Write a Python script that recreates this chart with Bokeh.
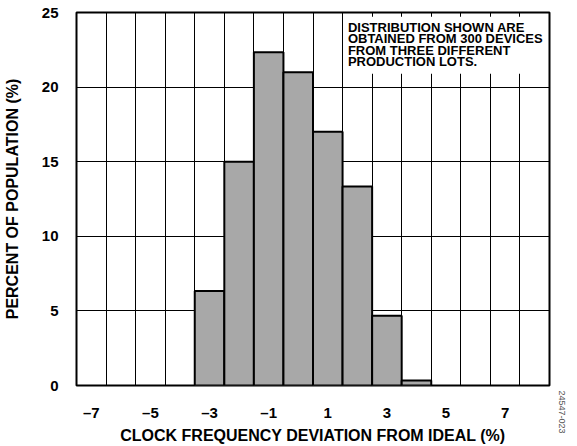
from bokeh.plotting import figure
from bokeh.models import FixedTicker, Label, Range1d, Title
from bokeh.embed import file_html
from bokeh.resources import INLINE

# data
bin_centers = [-3, -2, -1, 0, 1, 2, 3, 4]
percent = [6.33, 15.0, 22.33, 21.0, 17.0, 13.33, 4.67, 0.33]
x_tick_labels = [-7, -5, -3, -1, 1, 3, 5, 7]
y_ticks = [0, 5, 10, 15, 20, 25]
note_lines = ["DISTRIBUTION SHOWN ARE", "OBTAINED FROM 300 DEVICES",
              "FROM THREE DIFFERENT", "PRODUCTION LOTS."]

FONT = "Liberation Sans"

p = figure(width=577, height=446, output_backend="svg", toolbar_location=None,
           x_range=Range1d(-7.5, 8.5), y_range=Range1d(0, 25),
           min_border_left=69, min_border_right=28, min_border_top=12, min_border_bottom=51)

p.outline_line_color = "black"
p.outline_line_width = 2
p.outline_line_alpha = 1

# grid
p.xgrid.ticker = FixedTicker(ticks=[x + 0.5 for x in range(-7, 8)])
p.ygrid.ticker = FixedTicker(ticks=[5, 10, 15, 20])
for g in (p.xgrid, p.ygrid):
    g.grid_line_color = "black"
    g.grid_line_width = 1
    g.grid_line_alpha = 1

# bars
p.vbar(x=bin_centers, top=percent, width=1.0, bottom=0,
       fill_color="#a8a8a8", line_color="black", line_width=2)

# note box (white background covering grid)
p.quad(left=[1.55], right=[8.4], bottom=[20.9], top=[24.72],
       fill_color="white", line_color=None)
for i, line in enumerate(note_lines):
    p.add_layout(Label(x=1.68, y=24.5 - i * 0.765, text=line, text_font=FONT,
                       text_font_style="bold", text_font_size="13px",
                       text_baseline="top", text_align="left", text_color="black"))

# axes
p.xaxis.ticker = FixedTicker(ticks=x_tick_labels)
p.xaxis.major_label_overrides = {t: ("\u2013" + str(-t) if t < 0 else str(t)) for t in x_tick_labels}
p.yaxis.ticker = FixedTicker(ticks=y_ticks)
for ax in (p.xaxis, p.yaxis):
    ax.axis_line_color = None
    ax.major_tick_line_color = None
    ax.minor_tick_line_color = None
    ax.major_label_text_font = FONT
    ax.major_label_text_font_style = "bold"
    ax.major_label_text_font_size = "15px"
    ax.major_label_text_color = "black"
    ax.axis_label_text_font = FONT
    ax.axis_label_text_font_style = "bold"
    ax.axis_label_text_font_size = "16px"
    ax.axis_label_text_color = "black"
p.xaxis.major_label_standoff = 12
p.yaxis.major_label_standoff = 12
p.xaxis.axis_label = "CLOCK FREQUENCY DEVIATION FROM IDEAL (%)"
p.yaxis.axis_label = "PERCENT OF POPULATION (%)"
p.xaxis.axis_label_standoff = 3
p.yaxis.axis_label_standoff = 18

# figure id text
p.add_layout(Title(text="24547-023", align="left", offset=378, standoff=18,
                   vertical_align="bottom",
                   text_font=FONT, text_font_size="9px", text_font_style="normal",
                   text_color="#555555"), "right")

open("out.html", "w").write(file_html(p, INLINE))
